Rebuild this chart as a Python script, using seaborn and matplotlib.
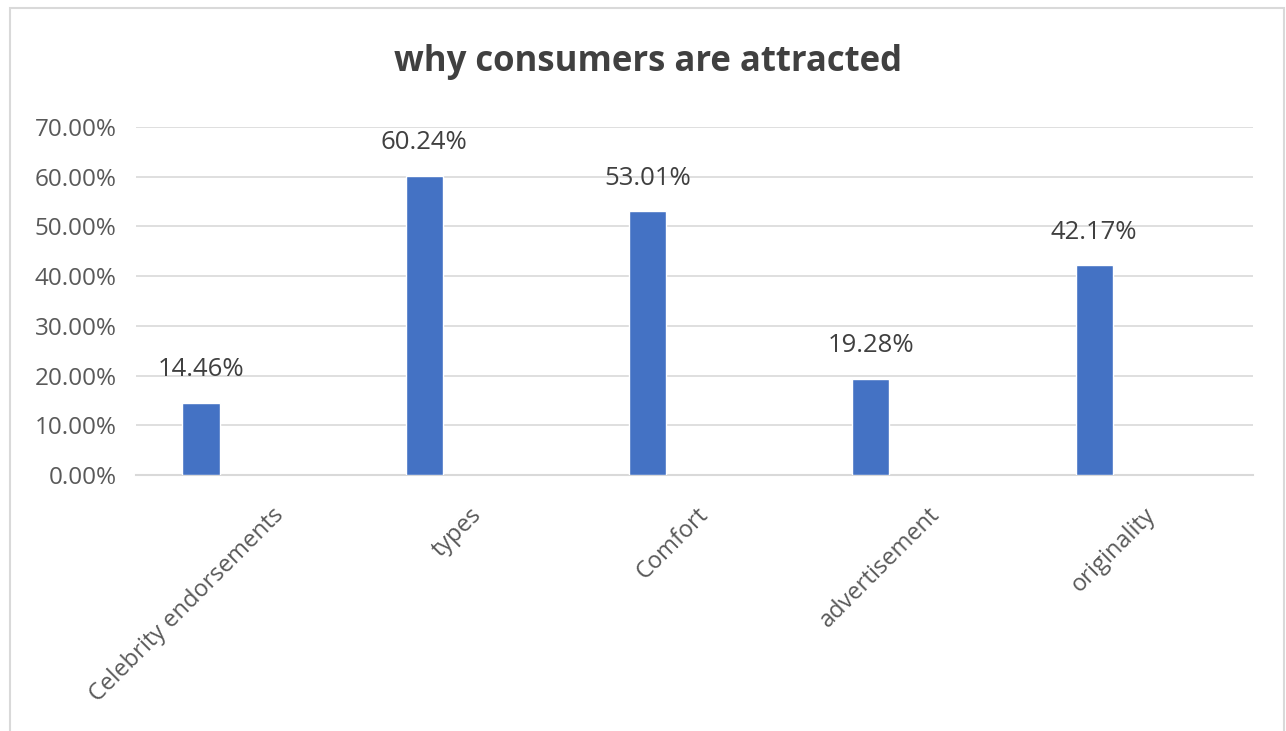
import matplotlib
matplotlib.use("Agg")
import matplotlib.pyplot as plt
import matplotlib.transforms as mtransforms
from matplotlib.patches import Rectangle
from matplotlib.ticker import FuncFormatter, MultipleLocator
import seaborn as sns
import pandas as pd

categories = ["Celebrity endorsements", "types", "Comfort", "advertisement", "originality"]
values = [14.46, 60.24, 53.01, 19.28, 42.17]
title = "why consumers are attracted"

sns.set_theme(style="whitegrid")
plt.rcParams["font.family"] = ["Open Sans", "DejaVu Sans"]

df = pd.DataFrame({"category": categories, "value": values})

fig = plt.figure(figsize=(12.86, 7.31), dpi=100)
ax = fig.add_axes([136/1286, 1 - 475/731, (1253-136)/1286, (475-127)/731])

sns.barplot(data=df, x="category", y="value", color="#4472C4", width=0.166,
            saturation=1, ax=ax, zorder=3)

ax.set_ylim(0, 70)
ax.set_xlim(-0.291, len(categories) - 0.288)
ax.yaxis.set_major_locator(MultipleLocator(10))
ax.yaxis.set_major_formatter(FuncFormatter(lambda v, p: f"{v:.2f}%"))
ax.grid(axis="y", color="#d9d9d9", linewidth=1.2)
ax.grid(axis="x", visible=False)
for s in ["left", "right", "top"]:
    ax.spines[s].set_visible(False)
ax.spines["bottom"].set_color("#d9d9d9")
ax.spines["bottom"].set_linewidth(1.5)
ax.set_xlabel("")
ax.set_ylabel("")
ax.tick_params(axis="y", labelsize=17.5, labelcolor="#595959", pad=14, length=0)
ax.tick_params(axis="x", labelsize=17, labelcolor="#595959", pad=0, length=0)

# rotated category labels
label_dx = [71, 45, 49, 57, 49]
for lab, dx in zip(ax.get_xticklabels(), label_dx):
    lab.set_rotation(45)
    lab.set_rotation_mode("anchor")
    lab.set_ha("right")
    lab.set_va("top")
    lab.set_transform(lab.get_transform() +
                      mtransforms.ScaledTranslation(dx/100, -28/100, fig.dpi_scale_trans))

# data labels
for i, v in enumerate(values):
    ax.annotate(f"{v:.2f}%", xy=(i, v), xytext=(0, 15), textcoords="offset points",
                ha="center", va="bottom", fontsize=18.5, color="#404040")

fig.text(648/1286, 1 - 62/731, title, ha="center", va="center",
         fontsize=25, fontweight="bold", color="#404040")

fig.patches.append(Rectangle((10/1286, -0.05), (1284-10)/1286, 1.05 - 8/731,
                             transform=fig.transFigure, fill=False,
                             edgecolor="#d9d9d9", linewidth=1.5))

fig.savefig("out.png", dpi=100, facecolor="white")
